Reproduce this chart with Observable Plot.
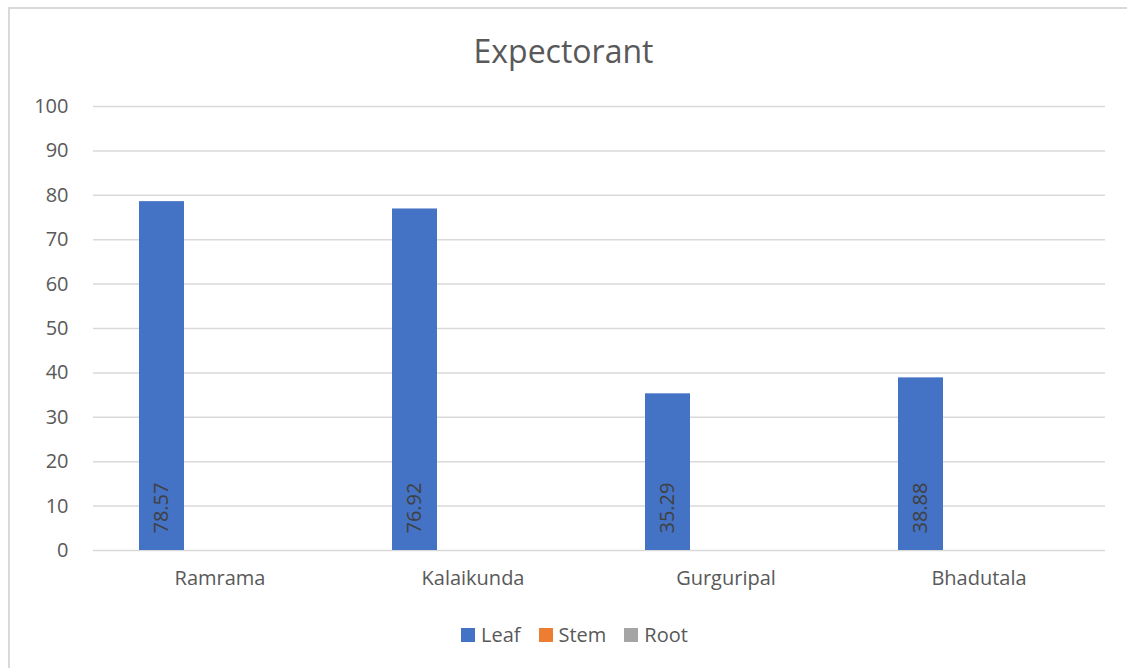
<!DOCTYPE html>
<html>
<head>
<meta charset="utf-8">
<script src="https://cdn.jsdelivr.net/npm/d3@7"></script>
<script src="https://cdn.jsdelivr.net/npm/@observablehq/plot@0.6"></script>
<style>
  html, body { margin: 0; padding: 0; background: #fff; }
  body { width: 1127px; height: 668px; position: relative; overflow: hidden; font-family: "Open Sans", sans-serif; }
  #frame { position: absolute; left: 8px; top: 7px; width: 1130px; height: 670px; border-top: 2px solid #d9d9d9; border-left: 2px solid #d9d9d9; box-sizing: border-box; }
  #title { position: absolute; left: 0; width: 1127px; top: 30px; text-align: center; font-size: 32px; color: #595959; line-height: 42px; }
  #chart { position: absolute; left: 0; top: 0; }
  #legend { position: absolute; left: 461px; top: 620px; display: flex; align-items: center; font-size: 20px; color: #595959; line-height: 30px; }
  #legend .item { display: flex; align-items: center; margin-right: 18px; }
  #legend .sw { width: 14px; height: 14px; margin-right: 6px; }
</style>
</head>
<body>
<div id="frame"></div>
<div id="title">Expectorant</div>
<div id="chart"></div>
<div id="legend"></div>
<script>
const categories = ["Ramrama", "Kalaikunda", "Gurguripal", "Bhadutala"];
const seriesNames = ["Leaf", "Stem", "Root"];
const leaf = [78.57, 76.92, 35.29, 38.88];
const stem = [null, null, null, null];
const root = [null, null, null, null];
const colors = ["#4472C4", "#ED7D31", "#A5A5A5"];
const yTicks = [0, 10, 20, 30, 40, 50, 60, 70, 80, 90, 100];

const seriesValues = [leaf, stem, root];
const data = categories.flatMap((c, i) =>
  seriesNames.map((s, j) => ({ category: c, series: s, value: seriesValues[j][i] }))
);
const barData = data.filter(d => d.value != null);

const chart = Plot.plot({
  width: 1127,
  height: 610,
  marginLeft: 92,
  marginRight: 21,
  marginTop: 106,
  marginBottom: 60,
  style: { fontFamily: "Open Sans, sans-serif", background: "transparent" },
  fx: { domain: categories, paddingInner: 92 / 254, paddingOuter: 46 / 254, label: null },
  x: { domain: seriesNames, paddingInner: 13.5 / 58.5, paddingOuter: 0, axis: null },
  y: { domain: [0, 100], label: null },
  color: { domain: seriesNames, range: colors },
  marks: [
    Plot.ruleY(yTicks, { stroke: "#d9d9d9", strokeWidth: 1.5, insetLeft: -46, insetRight: -46 }),
    Plot.axisY(yTicks, { anchor: "left", tickSize: 0, tickPadding: 25, dx: -46, fontSize: 20, fill: "#595959", label: null }),
    Plot.axisFx({ anchor: "bottom", tickSize: 0, tickPadding: 20, fontSize: 20, fill: "#595959", label: null }),
    Plot.barY(barData, { fx: "category", x: "series", y: "value", fill: "series" }),
    Plot.text(barData, {
      fx: "category", x: "series", y: 0, text: d => d.value.toFixed(2),
      rotate: -90, textAnchor: "start", dy: -17, fontSize: 20, fill: "#404040"
    })
  ]
});
document.getElementById("chart").appendChild(chart);

const legend = document.getElementById("legend");
seriesNames.forEach((s, i) => {
  const item = document.createElement("div");
  item.className = "item";
  const sw = document.createElement("span");
  sw.className = "sw";
  sw.style.background = colors[i];
  const t = document.createElement("span");
  t.textContent = s;
  item.appendChild(sw);
  item.appendChild(t);
  legend.appendChild(item);
});
</script>
</body>
</html>
